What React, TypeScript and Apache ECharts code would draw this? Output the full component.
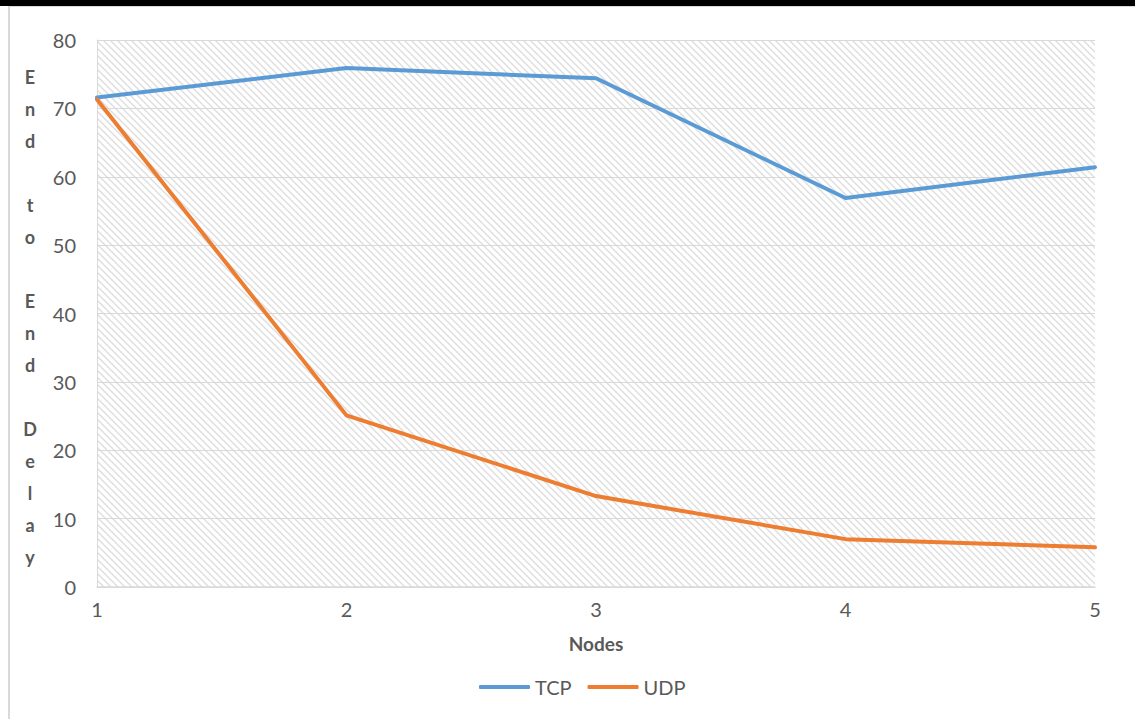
import React, { useEffect, useRef } from "react";
import * as echarts from "echarts";

const nodes = ["1", "2", "3", "4", "5"];
const tcpDelay = [71.6, 75.9, 74.4, 56.9, 61.4];
const udpDelay = [71.3, 25.1, 13.3, 7.0, 5.8];
const yTicks = { min: 0, max: 80, interval: 10 };
const yTitle = "End to End Delay";

const TEXT = "#595959";
const FONT = "Lato, 'Open Sans', sans-serif";

// Light diagonal hatch used as the plot-area fill
const TILE = 7;
const hatchSvg =
  `<svg xmlns="http://www.w3.org/2000/svg" width="${TILE}" height="${TILE}">` +
  `<rect width="${TILE}" height="${TILE}" fill="#ffffff"/>` +
  `<path d="M0,0 L${TILE},${TILE} M-2,${TILE - 2} L2,${TILE + 2} M${TILE - 2},-2 L${TILE + 2},2" stroke="#dedede" stroke-width="1.4"/>` +
  `</svg>`;
const hatchUrl = "data:image/svg+xml;utf8," + encodeURIComponent(hatchSvg);

export default function App() {
  const ref = useRef<HTMLDivElement>(null);

  useEffect(() => {
    document.body.style.margin = "0";
    if (!ref.current) return;
    const chart = echarts.init(ref.current, null, { renderer: "svg" });

    const stacked = yTitle.split("").join("\n");

    chart.setOption({
      animation: false,
      backgroundColor: "#ffffff",
      grid: {
        left: 97,
        right: 40,
        top: 40,
        bottom: 132,
        show: true,
        borderWidth: 0,
        backgroundColor: {
          image: hatchUrl,
          repeat: "repeat",
          imageWidth: TILE,
          imageHeight: TILE,
        },
      },
      xAxis: {
        type: "category",
        data: nodes,
        boundaryGap: false,
        name: "Nodes",
        nameLocation: "middle",
        nameGap: 47,
        nameTextStyle: { color: TEXT, fontFamily: FONT, fontSize: 19, fontWeight: "bold" },
        axisLine: { show: true, lineStyle: { color: "#d9d9d9", width: 1.5 } },
        axisTick: { show: false },
        axisLabel: { color: TEXT, fontFamily: FONT, fontSize: 20, margin: 12 },
        splitLine: { show: false },
      },
      yAxis: {
        type: "value",
        min: yTicks.min,
        max: yTicks.max,
        interval: yTicks.interval,
        axisLine: { show: true, lineStyle: { color: "#d9d9d9", width: 1 } },
        axisTick: { show: false },
        axisLabel: { color: TEXT, fontFamily: FONT, fontSize: 20, margin: 21 },
        splitLine: { show: true, lineStyle: { color: "#d9d9d9", width: 1 } },
      },
      legend: {
        left: 474,
        top: 672,
        itemWidth: 51,
        itemHeight: 4,
        itemGap: 16,
        textStyle: { color: TEXT, fontFamily: FONT, fontSize: 20 },
        data: [
          { name: "TCP", icon: "roundRect", itemStyle: { color: "#5B9BD5" } },
          { name: "UDP", icon: "roundRect", itemStyle: { color: "#ED7D31" } },
        ],
      },
      series: [
        {
          name: "TCP",
          type: "line",
          data: tcpDelay,
          symbol: "none",
          lineStyle: { color: "#5B9BD5", width: 4, join: "round", cap: "round" },
          itemStyle: { color: "#5B9BD5" },
        },
        {
          name: "UDP",
          type: "line",
          data: udpDelay,
          symbol: "none",
          lineStyle: { color: "#ED7D31", width: 4, join: "round", cap: "round" },
          itemStyle: { color: "#ED7D31" },
        },
      ],
      graphic: [
        {
          type: "rect",
          shape: { x: 0, y: 0, width: 1135, height: 6 },
          style: { fill: "#000000" },
          silent: true,
        },
        {
          type: "line",
          shape: { x1: 9, y1: 6.5, x2: 1135, y2: 6.5 },
          style: { stroke: "#d9d9d9", lineWidth: 1 },
          silent: true,
        },
        {
          type: "line",
          shape: { x1: 9, y1: 6, x2: 9, y2: 719 },
          style: { stroke: "#d9d9d9", lineWidth: 2 },
          silent: true,
        },
        {
          type: "text",
          x: 30,
          y: 61,
          style: {
            text: stacked,
            fill: TEXT,
            font: `bold 18px ${FONT}`,
            lineHeight: 32,
            align: "center",
            verticalAlign: "top",
          },
          silent: true,
        },
      ],
    });

    return () => chart.dispose();
  }, []);

  return <div ref={ref} style={{ width: 1135, height: 719 }} />;
}
